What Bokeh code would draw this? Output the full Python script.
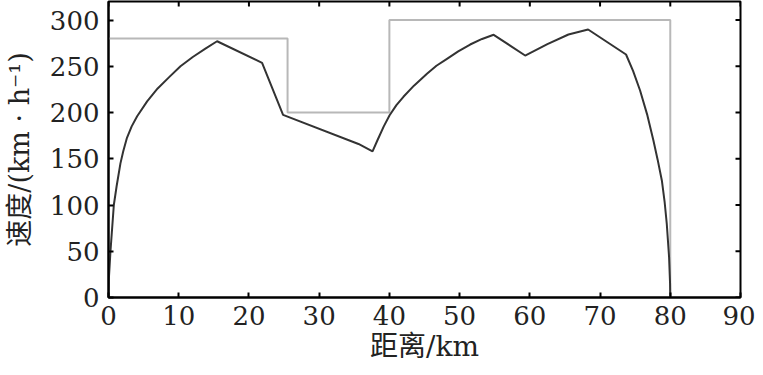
import math
from bokeh.plotting import figure
from bokeh.models import Range1d, FixedTicker
from bokeh.embed import file_html
from bokeh.resources import INLINE

# Speed profile (km, km/h)
speed_x = [0, 0.05, 0.28, 0.76, 1.15, 1.7, 2.1, 2.6, 3.3, 4.08, 5.5, 7.0, 8.6,
           10.25, 12.0, 13.8, 15.46,
           21.87, 24.86, 35.6, 37.6, 38.3, 39.2, 40.03, 41.0, 42.0, 43.5, 45.35,
           46.7, 48.2, 49.8, 51.5, 53.2, 54.85,
           59.33, 62.5, 65.5, 68.3, 73.7, 74.7, 75.7, 76.7, 77.6, 78.2, 78.8,
           79.2, 79.5, 79.83, 79.97, 80.0]
speed_y = [0, 20, 50, 100, 120, 145, 158, 172, 185, 196, 212, 226, 238,
           250, 260, 269, 277,
           253.7, 197.5, 166, 158, 170, 185, 197, 208, 217, 229, 241.8,
           250.5, 258, 266, 273.5, 279.5, 284,
           261.6, 274, 284.3, 289.7, 262.7, 245, 223.8, 198, 169.7, 149, 126.5,
           103, 79.7, 43.6, 15, 0]

# Speed limit (km, km/h)
limit_x = [0, 25.5, 25.5, 40, 40, 80, 80]
limit_y = [280, 280, 200, 200, 300, 300, 0]

x_ticks = [0, 10, 20, 30, 40, 50, 60, 70, 80, 90]
y_ticks = [0, 50, 100, 150, 200, 250, 300]
x_max = 90
y_max = 320

TICK_FONT = "DejaVu Serif"
LABEL_FONT = "DejaVu Serif, Noto Sans CJK SC"

p = figure(width=755, height=372, output_backend="svg", toolbar_location=None,
           x_range=Range1d(0, x_max), y_range=Range1d(0, y_max),
           frame_width=632, frame_height=296,
           min_border_left=108, min_border_top=1, min_border_right=15, min_border_bottom=70,
           x_axis_label="距离/km", y_axis_label="速度/(km · h⁻¹)")

p.grid.visible = False
p.outline_line_color = "black"
p.outline_line_width = 2
p.outline_line_alpha = 1
p.background_fill_color = "white"
p.border_fill_color = "white"

p.line(limit_x, limit_y, line_color="#b8b8b8", line_width=2)
p.line(speed_x, speed_y, line_color="#333333", line_width=2)

# mirrored inner ticks on top and right edges (half of each dash is clipped by the frame)
p.scatter(x=x_ticks, y=[y_max] * len(x_ticks), marker="dash", angle=math.pi / 2,
          size=10, line_color="black", line_width=2)
p.scatter(x=[x_max] * len(y_ticks), y=y_ticks, marker="dash",
          size=10, line_color="black", line_width=2)

for ax, ticks in ((p.xaxis[0], x_ticks), (p.yaxis[0], y_ticks)):
    ax.ticker = FixedTicker(ticks=ticks)
    ax.major_tick_in = 5
    ax.major_tick_out = 0
    ax.minor_tick_line_color = None
    ax.major_tick_line_width = 2
    ax.axis_line_width = 2
    ax.axis_line_color = "black"
    ax.major_label_text_font = TICK_FONT
    ax.major_label_text_font_size = "26px"
    ax.major_label_text_color = "#222222"
    ax.axis_label_text_font = LABEL_FONT
    ax.axis_label_text_font_style = "normal"
    ax.axis_label_text_color = "#222222"

p.xaxis[0].axis_label_text_font_size = "28px"
p.yaxis[0].axis_label_text_font_size = "27px"
p.xaxis[0].major_label_standoff = 8
p.xaxis[0].axis_label_standoff = 2
p.yaxis[0].major_label_standoff = 9
p.yaxis[0].axis_label_standoff = 12

open("out.html", "w").write(file_html(p, INLINE))
